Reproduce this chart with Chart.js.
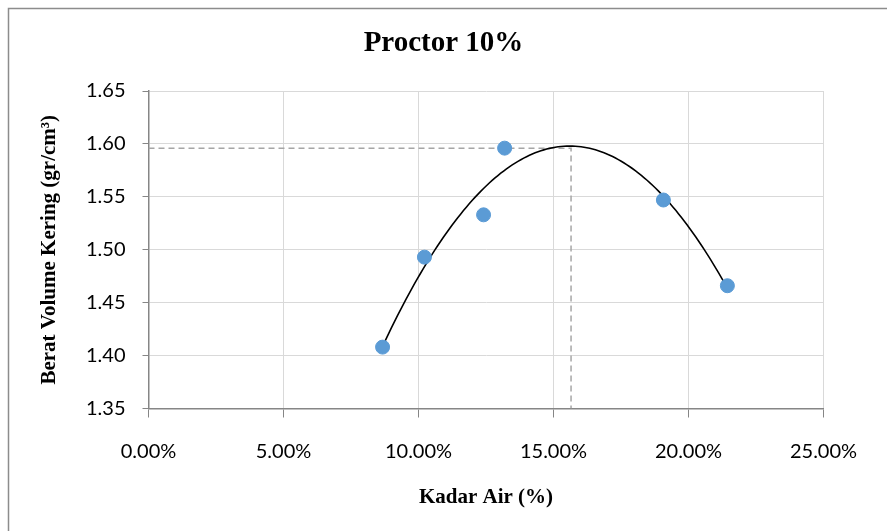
<!DOCTYPE html>
<html>
<head>
<meta charset="utf-8">
<script src="https://cdn.jsdelivr.net/npm/chart.js@4/dist/chart.umd.min.js"></script>
<style>
html,body{margin:0;padding:0;background:#fff;}
#wrap{position:relative;width:887px;height:531px;}
</style>
</head>
<body>
<div id="wrap"><canvas id="c" width="887" height="531"></canvas></div>
<script>
// Data
const chartTitle = 'Proctor 10%';
const xTitle = 'Kadar Air (%)';
const yTitle = 'Berat Volume Kering (gr/cm³)';
const moisture = [8.67, 10.22, 12.41, 13.19, 19.07, 21.44];   // Kadar Air (%)
const dryDensity = [1.408, 1.493, 1.533, 1.596, 1.547, 1.466]; // gr/cm3
const omc = 15.65;   // optimum moisture (dashed vertical)
const mdd = 1.596;   // max dry density (dashed horizontal)
const xTicks = [0, 5, 10, 15, 20, 25];
const yTicks = [1.35, 1.40, 1.45, 1.50, 1.55, 1.60, 1.65];

// 2nd order polynomial trendline (vertex form)
const trendVertexX = 15.6;
const trendVertexY = 1.598;
const trendCurv = 0.00394;
const trendFrom = 8.69, trendTo = 21.44;
const trend = [];
for (let i = 0; i <= 120; i++) {
  const x = trendFrom + (trendTo - trendFrom) * i / 120;
  trend.push({x: x, y: trendVertexY - trendCurv * (x - trendVertexX) * (x - trendVertexX)});
}

const points = moisture.map((x, i) => ({x: x, y: dryDensity[i]}));

const frame = {
  id: 'frame',
  afterDraw(chart) {
    const ctx = chart.ctx;
    ctx.save();
    ctx.strokeStyle = '#8c8c8c';
    ctx.lineWidth = 1.5;
    ctx.strokeRect(8.5, 8.5, 900, 560);
    ctx.restore();
  }
};

new Chart(document.getElementById('c'), {
  type: 'scatter',
  data: {
    datasets: [
      {
        label: 'MDD',
        data: [{x: 0, y: mdd}, {x: omc, y: mdd}, {x: omc, y: 1.35}],
        showLine: true,
        borderColor: '#a6a6a6',
        borderWidth: 1.5,
        borderDash: [6, 4],
        pointRadius: 0,
        fill: false,
        order: 3
      },
      {
        label: 'Trend',
        data: trend,
        showLine: true,
        borderColor: '#000000',
        borderWidth: 1.6,
        pointRadius: 0,
        fill: false,
        tension: 0,
        order: 2
      },
      {
        label: 'Data',
        data: points,
        backgroundColor: '#5b9bd5',
        borderColor: '#5b9bd5',
        pointRadius: 7,
        pointHoverRadius: 7,
        order: 1
      }
    ]
  },
  options: {
    responsive: false,
    animation: false,
    events: [],
    layout: {padding: {left: 0, right: 0, top: 0, bottom: 0}},
    plugins: {
      legend: {display: false},
      tooltip: {enabled: false},
      title: {
        display: true,
        text: chartTitle,
        color: '#000',
        font: {family: 'Liberation Serif', size: 29, weight: 'bold', lineHeight: 1.2},
        padding: {top: 26, bottom: 30.2}
      }
    },
    scales: {
      x: {
        type: 'linear',
        min: 0, max: 25,
        afterBuildTicks(scale) { scale.ticks = xTicks.map(v => ({value: v})); },
        afterFit(scale) { scale.height = 531 - 408.5; scale.paddingRight = 63.5; },
        ticks: {
          color: '#000',
          font: {family: 'Lato', size: 20},
          padding: 22,
          maxRotation: 0,
          callback: v => v.toFixed(2) + '%'
        },
        grid: {color: '#d9d9d9', tickColor: '#868686', tickLength: 9, lineWidth: 1},
        border: {color: '#868686', width: 1.5},
        title: {
          display: true,
          text: xTitle,
          color: '#000',
          font: {family: 'Liberation Serif', size: 21, weight: 'bold'},
          padding: {top: 0, bottom: 21}
        }
      },
      y: {
        type: 'linear',
        min: 1.35, max: 1.65,
        afterBuildTicks(scale) { scale.ticks = yTicks.map(v => ({value: v})); },
        afterFit(scale) { scale.width = 148.5; },
        ticks: {
          color: '#000',
          font: {family: 'Lato', size: 20},
          padding: 17,
          callback: v => v.toFixed(2)
        },
        grid: {color: '#d9d9d9', tickColor: '#868686', tickLength: 6, lineWidth: 1},
        border: {color: '#868686', width: 1.5},
        title: {
          display: true,
          text: yTitle,
          color: '#000',
          font: {family: 'Liberation Serif', size: 21, weight: 'bold'},
          padding: {top: 37, bottom: 0}
        }
      }
    }
  },
  plugins: [frame]
});
</script>
</body>
</html>
